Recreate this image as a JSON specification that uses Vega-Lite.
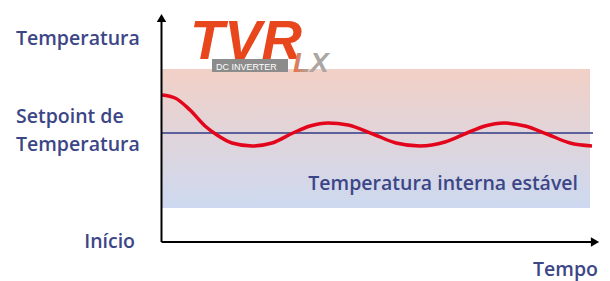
{
  "$schema": "https://vega.github.io/schema/vega-lite/v6.json",
  "width": 610,
  "height": 281,
  "padding": 0,
  "autosize": {"type": "fit", "contains": "padding"},
  "background": "white",
  "config": {"view": {"stroke": null}},
  "encoding": {
    "x": {"type": "quantitative", "scale": {"domain": [0, 610], "nice": false, "zero": false}, "axis": null},
    "y": {"type": "quantitative", "scale": {"domain": [0, 281], "nice": false, "zero": false, "reverse": true}, "axis": null}
  },
  "layer": [
    {
      "data": {"values": [{"x0": 161, "x1": 590, "y0": 69, "y1": 208}]},
      "mark": {"type": "rect", "fill": {"gradient": "linear", "x1": 0, "y1": 0, "x2": 0, "y2": 1, "stops": [{"offset": 0, "color": "#f2d0c6"}, {"offset": 1, "color": "#cdd9f0"}]}},
      "encoding": {"x": {"field": "x0", "type": "quantitative"}, "x2": {"field": "x1"}, "y": {"field": "y0", "type": "quantitative"}, "y2": {"field": "y1"}}
    },
    {
      "data": {"values": [{"x0": 161, "x1": 593, "y0": 133, "y1": 133}]},
      "mark": {"type": "rule", "color": "#2f3a86", "strokeWidth": 1.5},
      "encoding": {"x": {"field": "x0", "type": "quantitative"}, "x2": {"field": "x1"}, "y": {"field": "y0", "type": "quantitative"}, "y2": {"field": "y1"}}
    },
    {
      "data": {"values": [
        {"t": 162, "v": 95}, {"t": 175, "v": 98}, {"t": 190, "v": 110}, {"t": 205, "v": 126},
        {"t": 217, "v": 135}, {"t": 232, "v": 143}, {"t": 252, "v": 146}, {"t": 272, "v": 143},
        {"t": 293, "v": 133}, {"t": 310, "v": 126}, {"t": 328, "v": 123}, {"t": 348, "v": 125},
        {"t": 373, "v": 134}, {"t": 396, "v": 143}, {"t": 420, "v": 146}, {"t": 445, "v": 142},
        {"t": 467, "v": 133}, {"t": 485, "v": 126}, {"t": 504, "v": 123}, {"t": 525, "v": 126},
        {"t": 547, "v": 134}, {"t": 570, "v": 143}, {"t": 592, "v": 146}
      ]},
      "mark": {"type": "line", "color": "#e3051b", "strokeWidth": 3.5, "interpolate": "monotone"},
      "encoding": {"x": {"field": "t", "type": "quantitative"}, "y": {"field": "v", "type": "quantitative"}}
    },
    {
      "data": {"values": [{"x0": 161.5, "x1": 161.5, "y0": 242, "y1": 20}, {"x0": 161.5, "x1": 592, "y0": 242, "y1": 242}]},
      "mark": {"type": "rule", "color": "#000000", "strokeWidth": 2},
      "encoding": {"x": {"field": "x0", "type": "quantitative"}, "x2": {"field": "x1"}, "y": {"field": "y0", "type": "quantitative"}, "y2": {"field": "y1"}}
    },
    {
      "data": {"values": [{"x": 161.5, "y": 18}]},
      "mark": {"type": "point", "shape": "triangle-up", "filled": true, "color": "#000000", "size": 90, "opacity": 1},
      "encoding": {"x": {"field": "x", "type": "quantitative"}, "y": {"field": "y", "type": "quantitative"}}
    },
    {
      "data": {"values": [{"x": 595, "y": 242}]},
      "mark": {"type": "point", "shape": "triangle-right", "filled": true, "color": "#000000", "size": 90, "opacity": 1},
      "encoding": {"x": {"field": "x", "type": "quantitative"}, "y": {"field": "y", "type": "quantitative"}}
    },
    {
      "data": {"values": [{"x": 16, "y": 45, "label": "Temperatura"}, {"x": 16, "y": 123, "label": "Setpoint de"}, {"x": 16, "y": 151, "label": "Temperatura"}]},
      "mark": {"type": "text", "align": "left", "baseline": "alphabetic", "font": "Open Sans", "fontSize": 19.5, "fontWeight": 600, "color": "#3c4687"},
      "encoding": {"x": {"field": "x", "type": "quantitative"}, "y": {"field": "y", "type": "quantitative"}, "text": {"field": "label"}}
    },
    {
      "data": {"values": [{"x": 135, "y": 248, "label": "Início"}, {"x": 578, "y": 190, "label": "Temperatura interna estável"}, {"x": 598, "y": 276, "label": "Tempo"}]},
      "mark": {"type": "text", "align": "right", "baseline": "alphabetic", "font": "Open Sans", "fontSize": 19.5, "fontWeight": 600, "color": "#3c4687"},
      "encoding": {"x": {"field": "x", "type": "quantitative"}, "y": {"field": "y", "type": "quantitative"}, "text": {"field": "label"}}
    },
    {
      "data": {"values": [{"x": 190, "y": 59, "label": "TVR"}]},
      "mark": {"type": "text", "align": "left", "baseline": "alphabetic", "font": "Liberation Sans", "fontSize": 56, "fontWeight": "bold", "fontStyle": "italic", "color": "#e8461c"},
      "encoding": {"x": {"field": "x", "type": "quantitative"}, "y": {"field": "y", "type": "quantitative"}, "text": {"field": "label"}}
    },
    {
      "data": {"values": [{"x0": 212, "x1": 288, "y0": 59, "y1": 72}]},
      "mark": {"type": "rect", "color": "#8c8c8c"},
      "encoding": {"x": {"field": "x0", "type": "quantitative"}, "x2": {"field": "x1"}, "y": {"field": "y0", "type": "quantitative"}, "y2": {"field": "y1"}}
    },
    {
      "data": {"values": [{"x": 216, "y": 69.5, "label": "DC INVERTER"}]},
      "mark": {"type": "text", "align": "left", "baseline": "alphabetic", "font": "Liberation Sans", "fontSize": 9, "color": "#ffffff"},
      "encoding": {"x": {"field": "x", "type": "quantitative"}, "y": {"field": "y", "type": "quantitative"}, "text": {"field": "label"}}
    },
    {
      "data": {"values": [{"x": 293, "y": 72, "label": "LX"}]},
      "mark": {"type": "text", "align": "left", "baseline": "alphabetic", "font": "Liberation Sans", "fontSize": 28, "fontWeight": "bold", "fontStyle": "italic", "fill": {"gradient": "linear", "x1": 0, "y1": 0, "x2": 1, "y2": 0, "stops": [{"offset": 0, "color": "#e8704a"}, {"offset": 0.4, "color": "#b0a39c"}, {"offset": 1, "color": "#a8a8a8"}]}},
      "encoding": {"x": {"field": "x", "type": "quantitative"}, "y": {"field": "y", "type": "quantitative"}, "text": {"field": "label"}}
    }
  ]
}
